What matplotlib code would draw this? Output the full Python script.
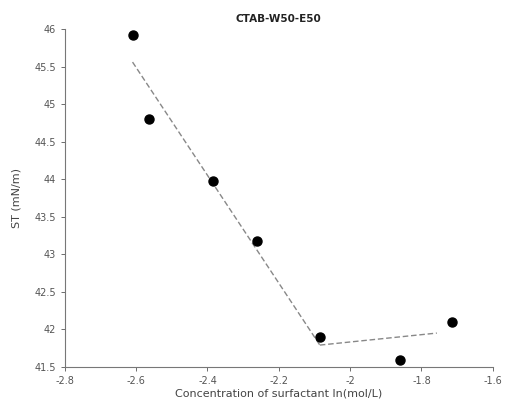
import matplotlib.pyplot as plt

# data
conc = [-2.61, -2.564, -2.385, -2.262, -2.085, -1.861, -1.715]
tension = [45.92, 44.80, 43.98, 43.18, 41.90, 41.59, 42.10]

# fitted segments (endpoints)
fit1_x = [-2.61, -2.085]
fit1_y = [45.56, 41.79]
fit2_x = [-2.085, -1.757]
fit2_y = [41.79, 41.95]

x_ticks = [-2.8, -2.6, -2.4, -2.2, -2.0, -1.8, -1.6]
x_labels = ['-2.8', '-2.6', '-2.4', '-2.2', '-2', '-1.8', '-1.6']
y_ticks = [41.5, 42, 42.5, 43, 43.5, 44, 44.5, 45, 45.5, 46]
y_labels = ['41.5', '42', '42.5', '43', '43.5', '44', '44.5', '45', '45.5', '46']

fig = plt.figure(figsize=(5.06, 4.15), dpi=100)
ax = fig.add_axes([0.128, 0.116, 0.846, 0.814])

ax.plot(fit1_x, fit1_y, '--', color='#888888', lw=1.0, dashes=(4, 2))
ax.plot(fit2_x, fit2_y, '--', color='#888888', lw=1.0, dashes=(4, 2))
ax.plot(conc, tension, 'o', color='black', markersize=6.5)

ax.set_xlim(-2.8, -1.6)
ax.set_ylim(41.5, 46)
ax.set_xticks(x_ticks)
ax.set_xticklabels(x_labels)
ax.set_yticks(y_ticks)
ax.set_yticklabels(y_labels)

for s in ['top', 'right']:
    ax.spines[s].set_visible(False)
for s in ['left', 'bottom']:
    ax.spines[s].set_color('#777777')
    ax.spines[s].set_linewidth(0.8)

ax.tick_params(labelsize=7, colors='#555555', length=3, width=0.6)
ax.set_xlabel('Concentration of surfactant ln(mol/L)', fontsize=8, color='#444444', labelpad=2)
ax.set_ylabel('ST (mN/m)', fontsize=8, color='#444444', labelpad=9)
ax.set_title('CTAB-W50-E50', fontsize=7.5, fontweight='bold', color='#222222', pad=5)

fig.savefig('out.png', dpi=100)
